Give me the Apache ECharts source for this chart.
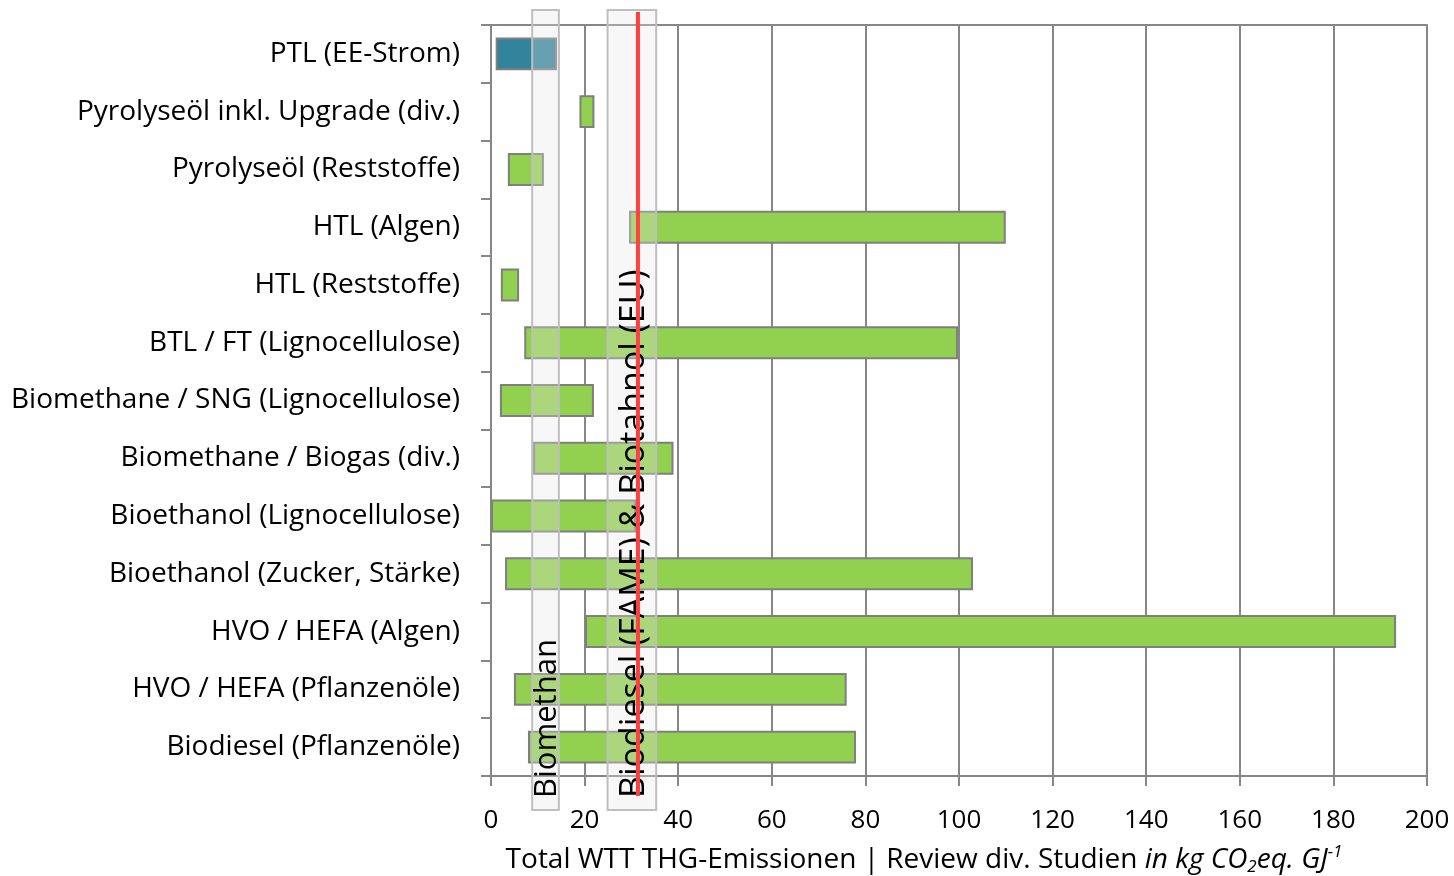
<!DOCTYPE html>
<html>
<head>
<meta charset="utf-8">
<script src="https://cdn.jsdelivr.net/npm/echarts@6/dist/echarts.min.js"></script>
<style>
html,body{margin:0;padding:0;background:#fff;}
#chart{width:1454px;height:876px;}
</style>
</head>
<body>
<div id="chart"></div>
<script>
// ---- data ----
const categories = [
  'PTL (EE-Strom)',
  'Pyrolyseöl inkl. Upgrade (div.)',
  'Pyrolyseöl (Reststoffe)',
  'HTL (Algen)',
  'HTL (Reststoffe)',
  'BTL / FT (Lignocellulose)',
  'Biomethane / SNG (Lignocellulose)',
  'Biomethane / Biogas (div.)',
  'Bioethanol (Lignocellulose)',
  'Bioethanol (Zucker, Stärke)',
  'HVO / HEFA (Algen)',
  'HVO / HEFA (Pflanzenöle)',
  'Biodiesel (Pflanzenöle)'
];
const minValues = [1, 18.9, 3.6, 29.5, 2.1, 7.1, 1.9, 9.0, 0, 3.0, 20.1, 4.9, 7.9];
const maxValues = [14.1, 22.1, 11.3, 110, 6, 99.8, 22, 39, 31, 103, 193.4, 76, 78];
const bandStarts = [8.8, 24.9];
const bandEnds = [14.5, 35.3];
const bandLabels = ['Biomethan', 'Biodiesel (FAME) & Biotahnol (EU)'];
const redLineValue = 31.4;
const xTicks = [0, 20, 40, 60, 80, 100, 120, 140, 160, 180, 200];

const FONT = 'Open Sans';
const GREEN = '#92D050';
const TEAL = '#31849B';
const GREY = '#878787';
const bandFontSizes = [31, 34];

const chart = echarts.init(document.getElementById('chart'), null, {renderer: 'canvas'});

const lengthData = minValues.map((m, i) => ({
  value: maxValues[i] - m,
  itemStyle: i === 0 ? {color: TEAL} : undefined
}));

const bandData = bandStarts.map((s, i) => [s, bandEnds[i], bandLabels[i]]);

const option = {
  animation: false,
  backgroundColor: '#fff',
  grid: {left: 491, right: 27, top: 25, bottom: 100, containLabel: false, outerBoundsMode: 'none'},
  xAxis: [{
    type: 'value', min: xTicks[0], max: xTicks[xTicks.length - 1], interval: 20,
    position: 'bottom',
    axisLine: {show: true, lineStyle: {color: GREY, width: 2}},
    axisTick: {show: true, length: 10, lineStyle: {color: GREY, width: 2}},
    axisLabel: {fontFamily: FONT, fontSize: 26, color: '#000', margin: 32},
    splitLine: {show: true, lineStyle: {color: GREY, width: 2}},
    name: '{n|Total WTT THG-Emissionen | Review div. Studien }{i|in kg CO}{sub|2}{i|eq. GJ}{sup|-1}',
    nameLocation: 'middle',
    nameGap: 68,
    nameTextStyle: {
      padding: [0, 70, 0, 0],
      rich: {
        n: {fontFamily: FONT, fontSize: 28, color: '#000', lineHeight: 32},
        i: {fontFamily: FONT, fontSize: 28, fontStyle: 'italic', color: '#000', lineHeight: 32},
        sub: {fontFamily: FONT, fontSize: 17, fontStyle: 'italic', color: '#000', verticalAlign: 'bottom', lineHeight: 17},
        sup: {fontFamily: FONT, fontSize: 17, fontStyle: 'italic', color: '#000', verticalAlign: 'top', lineHeight: 17}
      }
    }
  }, {
    type: 'value', min: xTicks[0], max: xTicks[xTicks.length - 1], interval: 20,
    position: 'top',
    axisLine: {show: true, lineStyle: {color: GREY, width: 2}},
    axisTick: {show: false},
    axisLabel: {show: false},
    splitLine: {show: false}
  }],
  yAxis: {
    type: 'category', data: categories, inverse: true,
    axisLine: {show: true, lineStyle: {color: GREY, width: 2}},
    axisTick: {show: true, length: 10, alignWithLabel: false, lineStyle: {color: GREY, width: 2}},
    axisLabel: {fontFamily: FONT, fontSize: 28, color: '#000', margin: 31},
    splitLine: {show: false}
  },
  series: [{
    type: 'bar', stack: 'range', data: minValues,
    itemStyle: {color: 'rgba(0,0,0,0)'}, barWidth: '57%', silent: true
  }, {
    type: 'bar', stack: 'range', data: lengthData,
    barWidth: '57%',
    itemStyle: {color: GREEN, borderColor: '#7F7F7F', borderWidth: 2}
  }, {
    type: 'custom', z: 5, clip: false,
    data: bandData,
    encode: {x: [0, 1]},
    renderItem: function (params, api) {
      const cs = params.coordSys;
      const x1 = api.coord([api.value(0), 0])[0];
      const x2 = api.coord([api.value(1), 0])[0];
      const top = cs.y - 15;
      const bottom = cs.y + cs.height + 34;
      return {
        type: 'rect',
        shape: {x: x1, y: top, width: x2 - x1, height: bottom - top},
        style: {fill: 'rgba(227,227,227,0.3)', stroke: '#BFBFBF', lineWidth: 2}
      };
    }
  }, {
    type: 'custom', z: 6, clip: false,
    data: [[redLineValue]],
    encode: {x: 0},
    renderItem: function (params, api) {
      const cs = params.coordSys;
      const x = api.coord([api.value(0), 0])[0];
      return {
        type: 'line',
        shape: {x1: x, y1: cs.y - 13, x2: x, y2: cs.y + cs.height + 20},
        style: {stroke: '#FF4040', lineWidth: 4}
      };
    }
  }, {
    type: 'custom', z: 5, clip: false,
    data: bandData,
    encode: {x: [0, 1]},
    renderItem: function (params, api) {
      const cs = params.coordSys;
      const x1 = api.coord([api.value(0), 0])[0];
      const x2 = api.coord([api.value(1), 0])[0];
      return {
        type: 'text',
        x: (x1 + x2) / 2 + 2,
        y: cs.y + cs.height + 22,
        rotation: Math.PI / 2,
        style: {
          text: bandData[params.dataIndex][2],
          fontFamily: FONT, fontSize: bandFontSizes[params.dataIndex], fill: '#000',
          align: 'left', verticalAlign: 'middle'
        }
      };
    }
  }]
};
chart.setOption(option);
</script>
</body>
</html>
